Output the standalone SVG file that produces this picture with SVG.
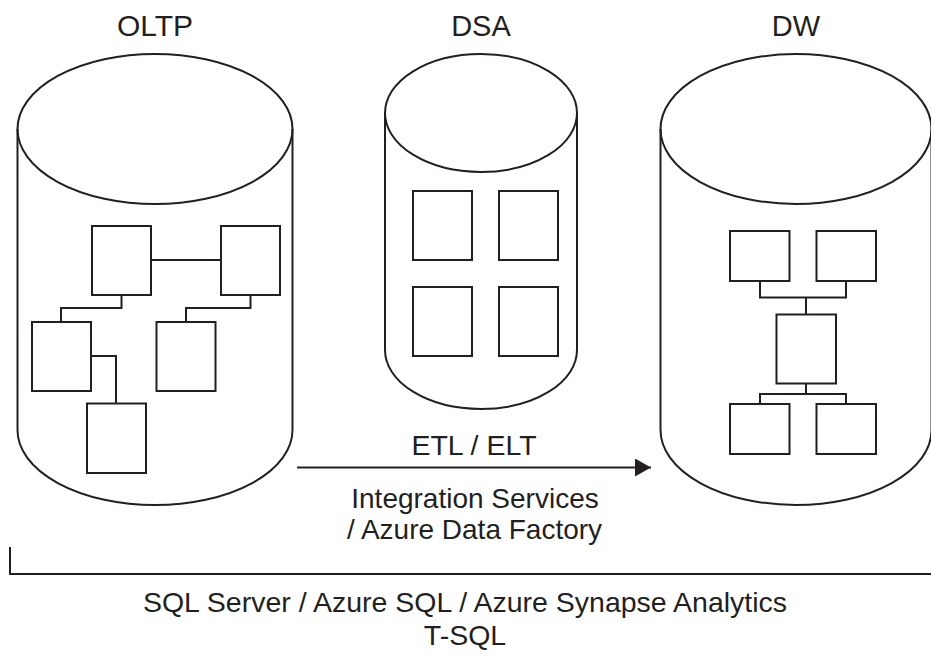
<svg xmlns="http://www.w3.org/2000/svg" width="931" height="659" viewBox="0 0 931 659">
<style>
.cyl{fill:none;stroke:#231f20;stroke-width:2}
.box{fill:#fff;stroke:#231f20;stroke-width:2}
.ln{fill:none;stroke:#231f20;stroke-width:2}
.t{font-family:"Liberation Sans",Arial,sans-serif;fill:#231f20;text-anchor:middle}
</style>
<defs>
<marker id="ah" markerWidth="16" markerHeight="18" refX="16" refY="9" orient="auto" markerUnits="userSpaceOnUse">
<path d="M0,0 L16,9 L0,18 Z" fill="#231f20"/>
</marker>
</defs>
<rect width="931" height="659" fill="#fff"/>
<g id="oltp">
<text class="t" x="155" y="36" font-size="30">OLTP</text>
<path class="cyl" d="M17.5,129 L17.5,430 A137.5,75 0 0 0 292.5,430 L292.5,129"/>
<ellipse class="cyl" cx="155" cy="129" rx="137.5" ry="75"/>
<path class="ln" d="M151,260 H221 M121.5,295 V308 H61 V322 M250.5,295 V308 H186 V322 M91,356 H116 V403"/>
<rect class="box" x="92" y="226" width="59" height="69"/>
<rect class="box" x="221" y="226" width="59" height="69"/>
<rect class="box" x="32" y="322" width="59" height="69"/>
<rect class="box" x="156.5" y="322" width="59" height="69"/>
<rect class="box" x="87" y="403.5" width="59" height="69.5"/>
</g>
<g id="dsa">
<text class="t" x="481" y="36" font-size="29">DSA</text>
<path class="cyl" d="M385,113 L385,350 A96,59 0 0 0 577,350 L577,113"/>
<ellipse class="cyl" cx="481" cy="113" rx="96" ry="59"/>
<rect class="box" x="413" y="191" width="59" height="69"/>
<rect class="box" x="499" y="191" width="59" height="69"/>
<rect class="box" x="413" y="287" width="59" height="69"/>
<rect class="box" x="499" y="287" width="59" height="69"/>
</g>
<g id="dw">
<text class="t" x="796" y="36" font-size="29">DW</text>
<path class="cyl" d="M660.5,129 L660.5,430 A135.5,75 0 0 0 931.5,430 L931.5,129"/>
<ellipse class="cyl" cx="796" cy="129" rx="135.5" ry="75"/>
<path class="ln" d="M760,281 V297.5 H846 V281 M806,297.5 V314.5 M806,383.5 V394 M760,404 V394 H846 V404"/>
<rect class="box" x="730" y="231" width="59.5" height="50"/>
<rect class="box" x="816.5" y="231" width="59.5" height="50"/>
<rect class="box" x="776.5" y="314.5" width="59.5" height="69"/>
<rect class="box" x="730" y="404" width="59.5" height="50"/>
<rect class="box" x="816.5" y="404" width="59.5" height="50"/>
</g>
<g id="connectors">
<line class="ln" x1="297" y1="467.5" x2="651" y2="467.5" marker-end="url(#ah)"/>
<path class="ln" d="M10,547 V574 H931"/>
</g>
<g id="labels">
<text class="t" x="474" y="455" font-size="28.5">ETL / ELT</text>
<text class="t" font-size="28"><tspan x="475" y="507.5">Integration Services</tspan><tspan x="474.5" y="539">/ Azure Data Factory</tspan></text>
<text class="t" font-size="28.5"><tspan x="465" y="612">SQL Server / Azure SQL / Azure Synapse Analytics</tspan><tspan x="465" y="645">T-SQL</tspan></text>
</g>
</svg>
